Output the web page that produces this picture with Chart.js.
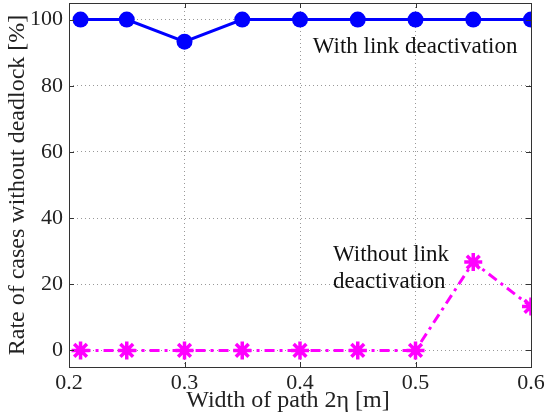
<!doctype html>
<html lang="en">
  <head>
    <meta charset="utf-8">
    <script src="https://cdn.jsdelivr.net/npm/chart.js@4.4.0/dist/chart.umd.min.js"></script>
    <style>
      html, body { margin: 0; padding: 0; background: #fff; }
      #box { width: 547px; height: 413px; }
    </style>
  </head>
  <body>
    <div id="box"><canvas id="chart"></canvas></div>
    <script>
      // path widths (x) and deadlock-free rates (%)
      const widths = [0.21, 0.25, 0.3, 0.35, 0.4, 0.45, 0.5, 0.55, 0.6];
      const withDeact = [100, 100, 93.3, 100, 100, 100, 100, 100, 100];
      const withoutDeact = [0, 0, 0, 0, 0, 0, 0, 26.7, 13.3];
      const xTicks = [0.2, 0.3, 0.4, 0.5, 0.6];
      const yTicks = [0, 20, 40, 60, 80, 100];

      const serif = "'Liberation Serif', 'DejaVu Serif', serif";

      function pts(ys) {
        return widths.map((x, i) => ({ x: x, y: ys[i] }));
      }

      // frame, inward tick marks, axis titles and the two text labels
      const frame = {
        id: 'frame',
        afterDatasetsDraw(chart) {
          const { ctx, chartArea: a, scales } = chart;
          ctx.save();
          ctx.strokeStyle = '#333';
          ctx.lineWidth = 1;
          ctx.beginPath();
          xTicks.forEach(v => {
            const px = Math.round(scales.x.getPixelForValue(v)) + 0.5;
            ctx.moveTo(px, a.bottom); ctx.lineTo(px, a.bottom - 5);
            ctx.moveTo(px, a.top); ctx.lineTo(px, a.top + 5);
          });
          yTicks.forEach(v => {
            const py = Math.round(scales.y.getPixelForValue(v)) + 0.5;
            ctx.moveTo(a.left, py); ctx.lineTo(a.left + 5, py);
            ctx.moveTo(a.right, py); ctx.lineTo(a.right - 5, py);
          });
          ctx.stroke();
          ctx.strokeRect(Math.round(a.left) + 0.5, Math.round(a.top) + 0.5,
                         Math.round(a.right - a.left), Math.round(a.bottom - a.top));

          ctx.fillStyle = '#111';
          ctx.textBaseline = 'alphabetic';
          ctx.textAlign = 'left';
          ctx.font = '23px ' + serif;
          ctx.fillText('With link deactivation', scales.x.getPixelForValue(0.411), scales.y.getPixelForValue(90));
          ctx.fillText('Without link', scales.x.getPixelForValue(0.4286), scales.y.getPixelForValue(27));
          ctx.fillText('deactivation', scales.x.getPixelForValue(0.4286), scales.y.getPixelForValue(18.8));

          // axis titles
          ctx.fillStyle = '#222';
          ctx.font = '24px ' + serif;
          ctx.textAlign = 'center';
          ctx.fillText('Width of path 2η [m]', 288, 407);
          ctx.translate(24, (a.top + a.bottom) / 2);
          ctx.rotate(-Math.PI / 2);
          ctx.fillText('Rate of cases without deadlock [%]', 0, 0);
          ctx.restore();
        }
      };

      new Chart(document.getElementById('chart'), {
        type: 'scatter',
        plugins: [frame],
        data: {
          datasets: [
            {
              data: pts(withDeact),
              showLine: true,
              borderColor: '#0000ff',
              backgroundColor: '#0000ff',
              borderWidth: 3,
              pointRadius: 8,
              pointStyle: 'circle',
              pointBorderWidth: 0
            },
            {
              data: pts(withoutDeact),
              showLine: true,
              borderColor: '#ff00ff',
              backgroundColor: '#ff00ff',
              borderWidth: 3,
              borderDash: [10, 5, 3, 5],
              pointRadius: 9,
              pointStyle: 'star',
              pointBorderWidth: 3.5
            }
          ]
        },
        options: {
          responsive: true,
          maintainAspectRatio: false,
          animation: false,
          layout: { autoPadding: false, padding: { top: 3, right: 16, left: 0, bottom: 0 } },
          plugins: { legend: { display: false }, tooltip: { enabled: false } },
          scales: {
            x: {
              type: 'linear',
              min: 0.2,
              max: 0.6,
              afterBuildTicks: s => { s.ticks = xTicks.map(v => ({ value: v })); },
              afterFit: s => { s.height = 46; s.paddingLeft = 0; s.paddingRight = 0; },
              grid: { color: '#999', lineWidth: 1, drawTicks: false },
              border: { display: false, dash: [1, 3] },
              ticks: {
                color: '#222',
                font: { family: serif, size: 22 },
                padding: 3,
                maxRotation: 0,
                callback: v => v.toFixed(1)
              }
            },
            y: {
              min: -5,
              max: 105,
              afterBuildTicks: s => { s.ticks = yTicks.map(v => ({ value: v })); },
              afterFit: s => { s.width = 69; s.paddingTop = 0; s.paddingBottom = 0; },
              grid: { color: '#999', lineWidth: 1, drawTicks: false },
              border: { display: false, dash: [1, 3] },
              ticks: {
                color: '#222',
                font: { family: serif, size: 22 },
                padding: 6
              }
            }
          }
        }
      });
    </script>
  </body>
</html>
